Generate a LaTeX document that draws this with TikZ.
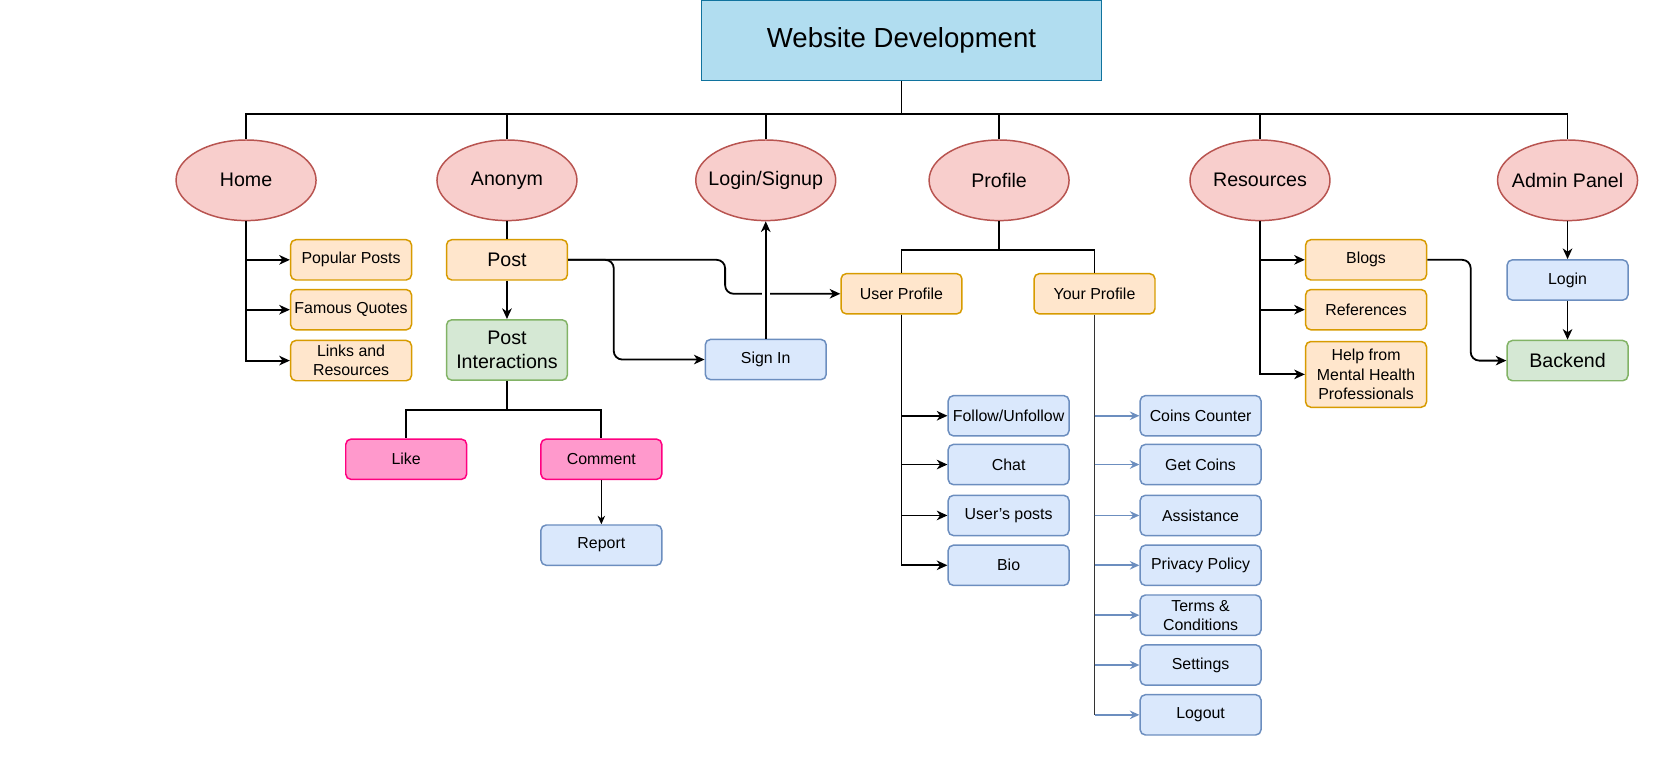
\documentclass[tikz,border=0pt]{standalone}
\usepackage{fontspec}
\setmainfont{Liberation Sans}
\usepackage{xcolor}
\usetikzlibrary{positioning,arrows.meta,shapes.geometric}

\definecolor{ttlfill}{HTML}{B1DDF0}
\definecolor{ttlline}{HTML}{10739E}
\definecolor{ellfill}{HTML}{F8CECC}
\definecolor{ellline}{HTML}{B85450}
\definecolor{orfill}{HTML}{FFE6CC}
\definecolor{orline}{HTML}{D79B00}
\definecolor{blfill}{HTML}{DAE8FC}
\definecolor{blline}{HTML}{6C8EBF}
\definecolor{grfill}{HTML}{D5E8D4}
\definecolor{grline}{HTML}{82B366}
\definecolor{pkfill}{HTML}{FF99CC}
\definecolor{pkline}{HTML}{FF0080}

\begin{document}
\begin{tikzpicture}[x=1pt,y=-1pt,font=\fontsize{15}{18}\selectfont,
    ttl/.style={draw=ttlline,fill=ttlfill,line width=1pt,minimum width=377pt,minimum height=76pt,font=\fontsize{26}{30}\selectfont},
    ell/.style={ellipse,draw=ellline,fill=ellfill,line width=1.4pt,minimum width=132pt,minimum height=76pt,inner xsep=-12pt,inner ysep=0pt,font=\fontsize{18.5}{22}\selectfont},
    rbox/.style={draw,rounded corners=5pt,line width=1.4pt,align=center,minimum width=114pt,minimum height=38pt,inner sep=2pt},
    orbox/.style={rbox,draw=orline,fill=orfill},
    blbox/.style={rbox,draw=blline,fill=blfill},
    grbox/.style={rbox,draw=grline,fill=grfill,font=\fontsize{18.5}{22.5}\selectfont},
    pkbox/.style={rbox,draw=pkline,fill=pkfill},
    conn/.style={line width=1.7pt},
    arr/.style={-{Stealth[length=10pt,width=9pt,inset=3pt]},line width=1.7pt},
    thinarr/.style={-{Stealth[length=8pt,width=7pt,inset=2.5pt]},line width=0.9pt},
    blarr/.style={-{Stealth[length=9pt,width=8pt,inset=3pt]},line width=1.6pt,draw=blline,fill=blline}]
  \useasboundingbox (0,0) rectangle (1568,714);

  \node[ttl] (title) at (850,38) {Website Development};

  \node[ell] (home) at (232,170) {Home};
  \node[ell] (anon) at (478,170) {Anonym};
  \node[ell] (logsign) at (722,170) {Login/Signup};
  \node[ell] (profile) at (942,170) {Profile};
  \node[ell] (resources) at (1188,170) {Resources};
  \node[ell] (admin) at (1478,170) {Admin Panel};

  % home
  \node[orbox] (popular) at (331,245) {Popular Posts};
  \node[orbox] (quotes) at (331,292) {Famous Quotes};
  \node[orbox] (links) at (331,340) {Links and\\Resources};

  % anonym
  \node[orbox,font=\fontsize{18.5}{22}\selectfont] (post) at (478,245) {Post};
  \node[grbox,minimum height=57pt] (postint) at (478,330) {Post\\Interactions};
  \node[pkbox] (like) at (383,433) {Like};
  \node[pkbox] (comment) at (567,433) {Comment};
  \node[blbox] (report) at (567,514) {Report};
  \node[blbox] (signin) at (722,339) {Sign In};

  % profile
  \node[orbox] (userprof) at (850,277) {User Profile};
  \node[orbox] (yourprof) at (1032,277) {Your Profile};
  \node[blbox] (follow) at (951,392) {Follow/Unfollow};
  \node[blbox] (chat) at (951,438) {Chat};
  \node[blbox] (uposts) at (951,486) {User's posts};
  \node[blbox] (bio) at (951,533) {Bio};
  \node[blbox] (coins) at (1132,392) {Coins Counter};
  \node[blbox] (getcoins) at (1132,438) {Get Coins};
  \node[blbox] (assist) at (1132,486) {Assistance};
  \node[blbox] (privacy) at (1132,533) {Privacy Policy};
  \node[blbox] (terms) at (1132,580) {Terms \&\\Conditions};
  \node[blbox] (settings) at (1132,627) {Settings};
  \node[blbox] (logout) at (1132,674) {Logout};

  % resources
  \node[orbox] (blogs) at (1288,245) {Blogs};
  \node[orbox] (refs) at (1288,292) {References};
  \node[orbox,minimum height=62pt] (help) at (1288,353) {Help from\\Mental Health\\Professionals};

  % admin
  \node[blbox] (adlogin) at (1478,264) {Login};
  \node[grbox] (backend) at (1478,340) {Backend};

  \foreach \e in {home,anon,logsign,profile,resources,admin} {
    \draw[conn] (title.south) -- ++(0,31) -| (\e.north);
  }
  \foreach \c in {popular,quotes,links} {
    \draw[arr] (home.south) |- (\c.west);
  }
  \draw[conn] (anon) -- (post);
  \draw[arr] (post) -- (postint);
  \draw[conn] (postint.south) -- ++(0,27) -| (like.north);
  \draw[conn] (postint.south) -- ++(0,27) -| (comment.north);
  \draw[thinarr] (comment) -- (report);
  \draw[arr,rounded corners=8pt] (post.east) -- ++(148,0) |- (userprof.west);
  \draw[arr,rounded corners=8pt] (post.east) -- ++(43,0) |- (signin.west);
  \draw[arr,preaction={draw,white,line width=8pt,-,shorten <=12pt,shorten >=12pt}] (signin) -- (logsign);

  \draw[conn] (profile.south) -- ++(0,27) -| (userprof.north);
  \draw[conn] (profile.south) -- ++(0,27) -| (yourprof.north);
  \foreach \c in {follow,chat,uposts,bio} {
    \draw[arr] (userprof.south) |- (\c.west);
  }
  \draw[line width=1pt,black!80] (yourprof.south) -- (yourprof.south |- logout.west);
  \foreach \c in {coins,getcoins,assist,privacy,terms,settings,logout} {
    \draw[blarr] (yourprof.south |- \c.west) -- (\c.west);
  }

  \foreach \c in {blogs,refs,help} {
    \draw[arr] (resources.south) |- (\c.west);
  }
  \draw[arr,rounded corners=8pt] (blogs.east) -- ++(41,0) |- (backend.west);
  \draw[arr] (admin) -- (adlogin);
  \draw[arr] (adlogin) -- (backend);
\end{tikzpicture}
\end{document}
